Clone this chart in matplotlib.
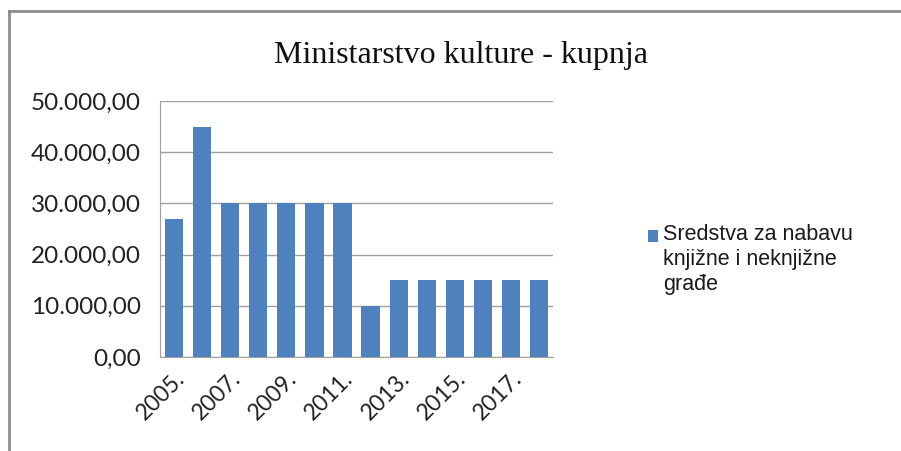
import matplotlib
matplotlib.use('Agg')
import matplotlib.pyplot as plt
from matplotlib.lines import Line2D
from matplotlib.patches import Rectangle
from matplotlib.ticker import FuncFormatter


godine = ['2005.', '2006.', '2007.', '2008.', '2009.', '2010.', '2011.',
          '2012.', '2013.', '2014.', '2015.', '2016.', '2017.', '2018.']
iznosi = [27000, 45000, 30000, 30000, 30000, 30000, 30000,
          10000, 15000, 15000, 15000, 15000, 15000, 15000]
naziv_serije = 'Sredstva za nabavu\nknjižne i neknjižne\ngrađe'
naslov = 'Ministarstvo kulture - kupnja'

_BOJA = '#4f81bd'


def hr_format(v, pos):
    s = '{:,.2f}'.format(v)
    return s.replace(',', 'X').replace('.', ',').replace('X', '.')


def main():
    fig = plt.figure(figsize=(9.01, 4.51), dpi=100)
    ax = fig.add_axes([0.1776, 0.2084, 0.4362, 0.5676])

    x = list(range(len(godine)))
    ax.bar(x, iznosi, width=0.65, color=_BOJA, zorder=3)

    ax.set_xlim(-0.5, len(godine) - 0.5)
    ax.set_ylim(0, 50000)
    ax.set_yticks(range(0, 50001, 10000))
    ax.yaxis.set_major_formatter(FuncFormatter(hr_format))
    ax.grid(axis='y', color='#a0a0a0', linewidth=1.0, zorder=0)

    ax.set_xticks(x[::2])
    ax.set_xticklabels(godine[::2], rotation=45, ha='right',
                       rotation_mode='anchor', family='Lato', fontsize=16.5)
    for lbl in ax.get_yticklabels():
        lbl.set_family('Lato')
        lbl.set_fontsize(17.5)
    ax.tick_params(axis='y', length=0, pad=14, colors='#222222')
    ax.tick_params(axis='x', length=0, pad=8, colors='#222222')

    for side in ['top', 'right']:
        ax.spines[side].set_visible(False)
    ax.spines['left'].set_color('#a0a0a0')
    ax.spines['bottom'].set_color('#a0a0a0')

    fig.text(0.512, 0.878, naslov, ha='center', va='center',
             family='Liberation Serif', fontsize=23, color='#111111')

    # legenda
    fig.add_artist(Rectangle((648 / 901, 1 - 242 / 451), 10 / 901, 12 / 451,
                             facecolor=_BOJA, edgecolor='none',
                             transform=fig.transFigure))
    fig.text(663 / 901, 1 - 224 / 451, naziv_serije, ha='left', va='top',
             family='Liberation Sans', fontsize=15.5, color='#1a1a1a',
             linespacing=1.25)

    # okvir grafikona
    fig.add_artist(Line2D([0.0105, 0.0105], [0.0, 0.975], color='#8c8c8c',
                          linewidth=2, transform=fig.transFigure))
    fig.add_artist(Line2D([0.0105, 1.0], [0.975, 0.975], color='#8c8c8c',
                          linewidth=2, transform=fig.transFigure))

    fig.savefig('out.png', dpi=100)


if __name__ == '__main__':
    main()
